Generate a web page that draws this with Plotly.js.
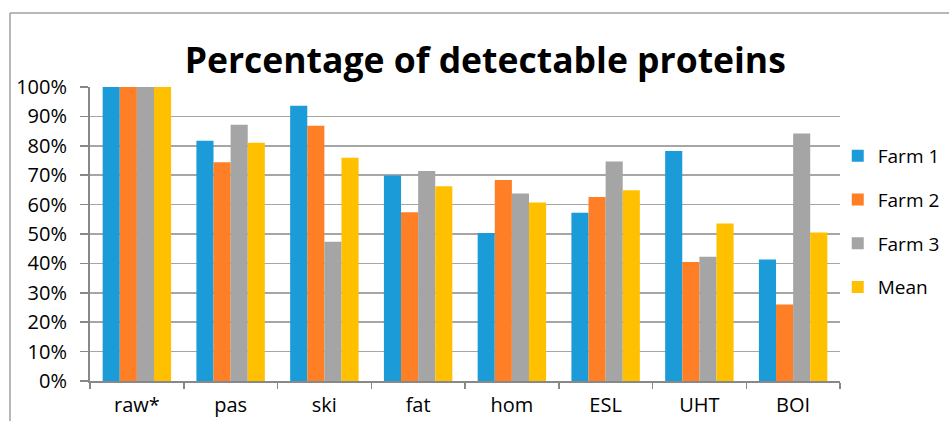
<!DOCTYPE html>
<html>
<head>
<meta charset="utf-8">
<script src="https://cdn.plot.ly/plotly-3.0.1.min.js"></script>
<style>html,body{margin:0;padding:0;background:#fff;}#chart{width:949px;height:421px;}</style>
</head>
<body>
<div id="chart"></div>
<script>
const categories = ["raw*", "pas", "ski", "fat", "hom", "ESL", "UHT", "BOI"];
const farm1 = [100, 81.7, 93.6, 69.9, 50.3, 57.2, 78.2, 41.3];
const farm2 = [100, 74.4, 86.8, 57.4, 68.4, 62.6, 40.5, 26.0];
const farm3 = [100, 87.2, 47.4, 71.4, 63.8, 74.7, 42.3, 84.2];
const mean  = [100, 81.0, 75.9, 66.2, 60.7, 64.9, 53.6, 50.5];
const seriesNames = ["Farm 1", "Farm 2", "Farm 3", "Mean"];
const yTickVals = [0,10,20,30,40,50,60,70,80,90,100];
const yTickText = ["0%","10%","20%","30%","40%","50%","60%","70%","80%","90%","100%"];

const colors = ["#1B9CD8", "#FF7F27", "#A5A5A5", "#FFC000"];
const values = [farm1, farm2, farm3, mean];
const FONT = "Open Sans, Liberation Sans, sans-serif";

const traces = values.map((v, i) => ({
  type: "bar",
  name: seriesNames[i],
  legendgroup: seriesNames[i],
  x: categories,
  y: v,
  marker: {color: colors[i], line: {width: 0}},
  hoverinfo: "x+y+name"
}));

const border = "#A0A0A0";
const layout = {
  width: 949, height: 421,
  margin: {l: 90, r: 109, t: 87, b: 40, pad: 0, autoexpand: false},
  paper_bgcolor: "#fff", plot_bgcolor: "#fff",
  barmode: "group",
  bargap: 0.27,
  bargroupgap: 0,
  showlegend: true,
  title: {
    text: "<b>Percentage of detectable proteins</b>",
    font: {family: FONT, size: 35.5, color: "#000"},
    x: 0.527, xanchor: "center", xref: "paper",
    y: 0.855, yanchor: "middle"
  },
  xaxis: {
    type: "category",
    tickson: "boundaries",
    ticks: "outside", ticklen: 6, tickwidth: 1.5, tickcolor: "#888",
    showline: true, linecolor: "#888", linewidth: 2,
    showgrid: false,
    tickfont: {family: FONT, size: 20, color: "#000"},
    ticklabelstandoff: 5,
    fixedrange: true
  },
  yaxis: {
    range: [0, 100],
    tickvals: yTickVals, ticktext: yTickText,
    ticks: "outside", ticklen: 8, tickwidth: 1.5, tickcolor: "#888",
    showline: true, linecolor: "#888", linewidth: 2,
    showgrid: true, gridcolor: "#A6A6A6", gridwidth: 1.5,
    zeroline: false,
    tickfont: {family: FONT, size: 20, color: "#000"},
    ticklabelstandoff: 9,
    fixedrange: true
  },
  legend: {
    x: 0.997, xanchor: "left", y: 0.83, yanchor: "top",
    font: {family: FONT, size: 19, color: "#000"},
    tracegroupgap: 16, itemwidth: 30,
    bgcolor: "rgba(0,0,0,0)"
  },
  shapes: [
    {type: "line", xref: "paper", yref: "paper", x0: -0.1067, x1: 1.2, y0: 1.2517, y1: 1.2517, line: {color: border, width: 1.5}},
    {type: "line", xref: "paper", yref: "paper", x0: -0.1067, x1: -0.1067, y0: 1.2517, y1: -0.2, line: {color: border, width: 1.5}}
  ]
};

Plotly.newPlot("chart", traces, layout, {displayModeBar: false, staticPlot: true});
</script>
</body>
</html>
